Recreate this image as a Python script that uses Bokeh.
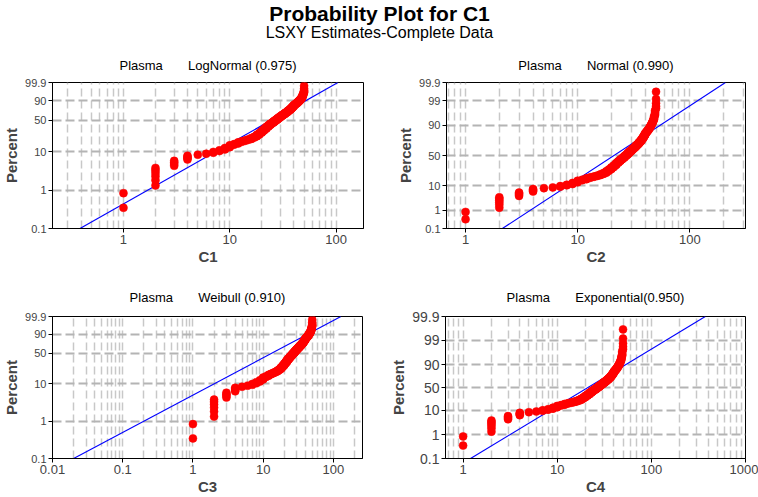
import numpy as np
from statistics import NormalDist
from bokeh.plotting import figure
from bokeh.layouts import column, row
from bokeh.models import FixedTicker, Label, Range1d
from bokeh.embed import file_html
from bokeh.resources import INLINE

# ---------------- data ----------------
values = list(range(1, 51))
counts = [2, 6, 4, 4, 1, 1, 2, 2, 3, 4,
          2, 3, 2, 2, 2, 3, 3, 5, 5, 6,
          6, 7, 6, 6, 5, 6, 5, 6, 5, 5,
          5, 4, 5, 4, 5, 4, 5, 5, 5, 5,
          3, 3, 3, 3, 3, 3, 3, 4, 4, 5]

main_title = "Probability Plot for C1"
sub_title = "LSXY Estimates-Complete Data"
group_name = "Plasma"
panel_dists = ["LogNormal (0.975)", "Normal (0.990)", "Weibull (0.910)", "Exponential(0.950)"]
x_titles = ["C1", "C2", "C3", "C4"]
y_ticks_4 = [0.1, 1, 10, 50, 90, 99.9]
y_ticks_5 = [0.1, 1, 10, 50, 90, 99, 99.9]
x_ranges = [(0.215, 181), (0.676, 314), (0.01, 260), (0.65, 1000)]
x_majors = [[1, 10, 100], [1, 10, 100], [0.01, 0.1, 1, 10, 100], [1, 10, 100, 1000]]
# fitted lines: end points (x, percent)
fit_x = [[0.39, 104], [2.13, 208], [0.02, 128], [1.2, 374]]
fit_pct = [[0.1, 99.9], [0.1, 99.9], [0.1, 99.9], [0.1, 99.9]]

FONT = "Liberation Sans"

# ---------------- probability scales ----------------
def weib(p):
    p = np.atleast_1d(np.asarray(p, dtype=float))
    return np.log10(-np.log(1 - p))

_nd = NormalDist()
def norm(p):
    return np.array([_nd.inv_cdf(float(v)) for v in np.atleast_1d(p)])

def logit(p):
    p = np.atleast_1d(np.asarray(p, dtype=float))
    return np.log10(p / (1 - p))

scales = [weib, norm, weib, logit]
ytick_sets = [y_ticks_4, y_ticks_5, y_ticks_4, y_ticks_5]

data = np.repeat(values, counts).astype(float)
N = len(data)
ranks = np.arange(1, N + 1)
med_rank = (ranks - 0.3) / (N + 0.4)

def fmt(v):
    return ("%g" % v)

def panel(i, width, height, mb_left, mb_right, mb_top, mb_bottom, ylab_size, t_standoff):
    f = scales[i]
    xr = x_ranges[i]
    yt = ytick_sets[i]
    ytv = [float(v) for v in f(np.array(yt, dtype=float) / 100.0)]
    p = figure(width=width, height=height, x_axis_type="log",
               x_range=Range1d(*xr), y_range=Range1d(ytv[0], ytv[-1]),
               output_backend="svg", toolbar_location=None,
               min_border_left=mb_left, min_border_right=mb_right,
               min_border_top=mb_top, min_border_bottom=mb_bottom)
    p.title.text = group_name + "\u00a0" * 7 + panel_dists[i]
    p.title.align = "center"
    p.title.text_font = FONT
    p.title.text_font_size = "13px"
    p.title.text_font_style = "normal"
    p.title.text_color = "black"
    p.title.standoff = t_standoff
    p.outline_line_color = "black"
    p.outline_line_width = 1
    p.background_fill_color = "white"
    p.border_fill_color = "white"

    # x axis / grid
    majors = x_majors[i]
    d0 = int(np.floor(np.log10(xr[0])))
    d1 = int(np.ceil(np.log10(xr[1])))
    minors = [k * 10.0 ** d for d in range(d0, d1) for k in range(2, 10)
              if xr[0] < k * 10.0 ** d < xr[1]]
    p.xaxis.ticker = FixedTicker(ticks=majors)
    p.xaxis.major_label_overrides = {float(m): fmt(m) for m in majors}
    p.xaxis.major_label_text_font = FONT
    p.xaxis.major_label_text_font_size = "13px"
    p.xaxis.major_label_standoff = 2
    p.xaxis.major_tick_in = 0
    p.xaxis.major_tick_out = 4
    p.xaxis.minor_tick_line_color = None
    p.xaxis.axis_label = x_titles[i]
    p.xaxis.axis_label_text_font = FONT
    p.xaxis.axis_label_text_font_size = "15px"
    p.xaxis.axis_label_text_font_style = "bold"
    p.xaxis.axis_label_standoff = 1
    p.xgrid.ticker = FixedTicker(ticks=majors, minor_ticks=minors)
    p.xgrid.grid_line_color = "#c8c8c8"
    p.xgrid.grid_line_width = 1.5
    p.xgrid.grid_line_dash = "8 4"
    p.xgrid.minor_grid_line_color = "#c8c8c8"
    p.xgrid.minor_grid_line_width = 1.5
    p.xgrid.minor_grid_line_dash = "8 4"

    # y axis / grid
    p.yaxis.ticker = FixedTicker(ticks=ytv)
    p.yaxis.major_label_overrides = {v: fmt(t) for v, t in zip(ytv, yt)}
    p.yaxis.major_label_text_font = FONT
    p.yaxis.major_label_text_font_size = ylab_size
    p.yaxis.major_label_standoff = 2
    p.yaxis.major_tick_in = 0
    p.yaxis.major_tick_out = 4
    p.yaxis.minor_tick_line_color = None
    p.yaxis.axis_label = "Percent"
    p.yaxis.axis_label_text_font = FONT
    p.yaxis.axis_label_text_font_size = "15px"
    p.yaxis.axis_label_text_font_style = "bold"
    p.yaxis.axis_label_standoff = 2
    p.ygrid.ticker = FixedTicker(ticks=ytv[1:-1])
    p.ygrid.grid_line_color = "#b4b4b4"
    p.ygrid.grid_line_width = 2
    p.ygrid.grid_line_dash = "9 4"

    # fitted line and data points
    p.line(fit_x[i], f(np.array(fit_pct[i]) / 100.0), line_color="#0000ff", line_width=1.1)
    p.scatter(data, f(med_rank), size=8, fill_color="#ff0000", line_color="#ff0000", line_width=0.5)
    return p

# ---------------- header (titles) ----------------
header = figure(width=758, height=42, output_backend="svg", toolbar_location=None,
                x_range=Range1d(0, 758), y_range=Range1d(42, 0),
                min_border_left=0, min_border_right=0, min_border_top=0, min_border_bottom=0)
header.axis.visible = False
header.grid.visible = False
header.outline_line_color = None
header.add_layout(Label(x=379, y=13, text=main_title, text_align="center",
                        text_baseline="middle", text_font=FONT, text_font_size="21px",
                        text_font_style="bold", text_color="black"))
header.add_layout(Label(x=379, y=32, text=sub_title, text_align="center",
                        text_baseline="middle", text_font=FONT, text_font_size="16px",
                        text_color="black"))

p1 = panel(0, 379, 228, 48, 16, 40, 42, "11px", 20)
p2 = panel(1, 379, 228, 67, 13, 40, 42, "11px", 20)
p3 = panel(2, 379, 227, 49, 17, 46, 36, "11px", 24)
p4 = panel(3, 379, 227, 66, 13, 46, 36, "14px", 24)

layout = column(header, row(p1, p2), row(p3, p4))
open("out.html", "w").write(file_html(layout, INLINE))
